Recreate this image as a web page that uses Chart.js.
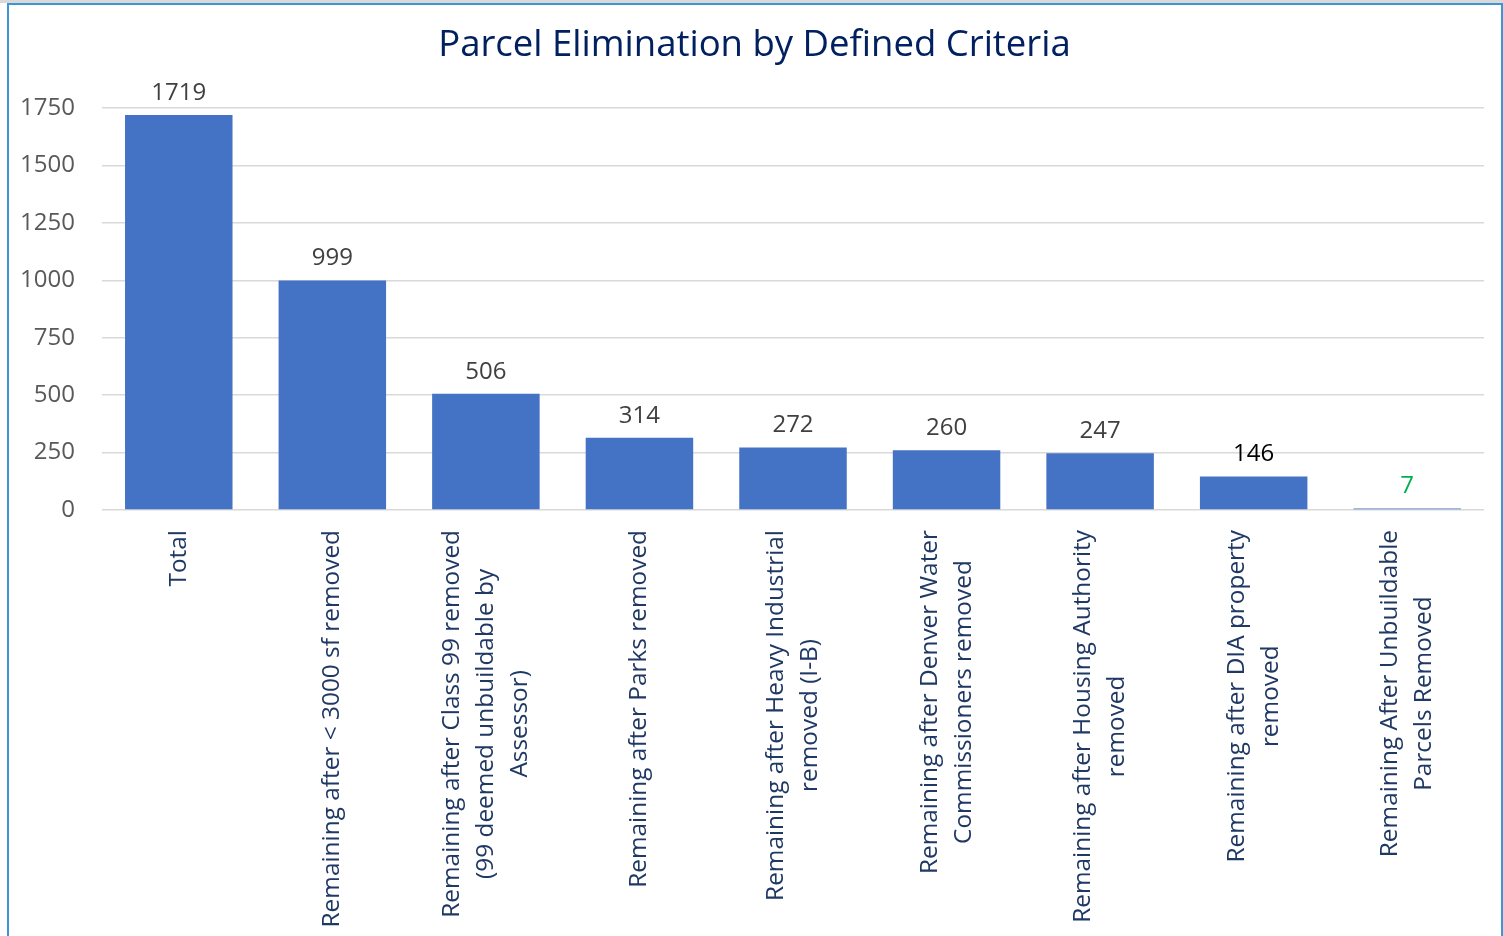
<!DOCTYPE html>
<html>
<head>
<meta charset="utf-8">
<script src="https://cdn.jsdelivr.net/npm/chart.js@4.4.1/dist/chart.umd.min.js"></script>
<style>
html, body { margin: 0; padding: 0; background: #fff; overflow: hidden; }
#wrap { position: absolute; left: 0; top: 0; width: 1503px; height: 936px; }
#topbar { position: absolute; left: 0; top: 0; width: 1503px; height: 3px; background: #d9d9d9; }
#frame { position: absolute; left: 7px; top: 3px; width: 1492px; height: 940px; border: 2px solid #3d95d6; border-bottom: none; pointer-events: none; }
</style>
</head>
<body>
<div id="wrap"><canvas id="myChart"></canvas></div>
<div id="topbar"></div>
<div id="frame"></div>
<script>
const titulo = 'Parcel Elimination by Defined Criteria';

const categorias = [
    ['Total'],
    ['Remaining after < 3000 sf removed'],
    ['Remaining after Class 99 removed', '(99 deemed unbuildable by', 'Assessor)'],
    ['Remaining after Parks removed'],
    ['Remaining after Heavy Industrial', 'removed (I-B)'],
    ['Remaining after Denver Water', 'Commissioners removed'],
    ['Remaining after Housing Authority', 'removed'],
    ['Remaining after DIA property', 'removed'],
    ['Remaining After Unbuildable', 'Parcels Removed']
];

const valores = [1719, 999, 506, 314, 272, 260, 247, 146, 7];

// cor de cada rótulo de valor
const coresValores = ['#404040', '#404040', '#404040', '#404040', '#404040', '#404040', '#404040', '#000000', '#00b050'];

const ticksY = [0, 250, 500, 750, 1000, 1250, 1500, 1750];

Chart.defaults.font.family = '"Open Sans", "Noto Sans", sans-serif';

// desenha título, valores sobre as barras e rótulos do eixo x (centralizados)
const rotulosPlugin = {
    id: 'rotulos',
    afterDraw(chart) {
        const ctx = chart.ctx;
        const xScale = chart.scales.x;
        const meta = chart.getDatasetMeta(0);
        ctx.save();

        ctx.font = '36.5px "Open Sans"';
        ctx.fillStyle = '#002060';
        ctx.textAlign = 'center';
        ctx.textBaseline = 'middle';
        ctx.fillText(titulo, chart.width / 2 + 3, 46);

        ctx.font = '24px "Open Sans"';
        meta.data.forEach(function (bar, i) {
            ctx.fillStyle = coresValores[i];
            ctx.fillText(String(valores[i]), bar.x, bar.y - 22);
        });

        ctx.font = '24.4px "Open Sans"';
        ctx.fillStyle = '#1f3864';
        categorias.forEach(function (linhas, i) {
            const x = xScale.getPixelForValue(i);
            const topo = xScale.top + 20;
            let maxW = 0;
            linhas.forEach(function (l) { maxW = Math.max(maxW, ctx.measureText(l).width); });
            ctx.save();
            ctx.translate(x, topo);
            ctx.rotate(-Math.PI / 2);
            linhas.forEach(function (l, j) {
                ctx.fillText(l, -maxW / 2, (j - (linhas.length - 1) / 2) * 34);
            });
            ctx.restore();
        });

        ctx.restore();
    }
};

const ctx = document.getElementById('myChart').getContext('2d');
const myChart = new Chart(ctx, {
    type: 'bar',
    data: {
        labels: categorias,
        datasets: [{
            data: valores,
            backgroundColor: '#4472c4',
            borderWidth: 0,
            barPercentage: 0.7,
            categoryPercentage: 1.0
        }]
    },
    options: {
        responsive: true,
        maintainAspectRatio: false,
        animation: false,
        layout: { padding: { left: 0, right: 19, top: 108, bottom: 0 } },
        plugins: {
            legend: { display: false },
            title: { display: false },
            tooltip: { enabled: false }
        },
        scales: {
            x: {
                grid: { display: false },
                border: { display: false },
                ticks: { display: false },
                afterFit: function (scale) { scale.height = 426; }
            },
            y: {
                min: 0,
                max: 1750,
                afterBuildTicks: function (scale) {
                    scale.ticks = ticksY.map(function (v) { return { value: v }; });
                },
                grid: { color: '#d9d9d9', lineWidth: 1.5, drawTicks: false },
                border: { display: false },
                ticks: {
                    color: '#595959',
                    font: { size: 24 },
                    padding: 27,
                    callback: function (v) { return String(v); }
                },
                afterFit: function (scale) { scale.width = 102; }
            }
        }
    },
    plugins: [rotulosPlugin]
});
</script>
</body>
</html>
